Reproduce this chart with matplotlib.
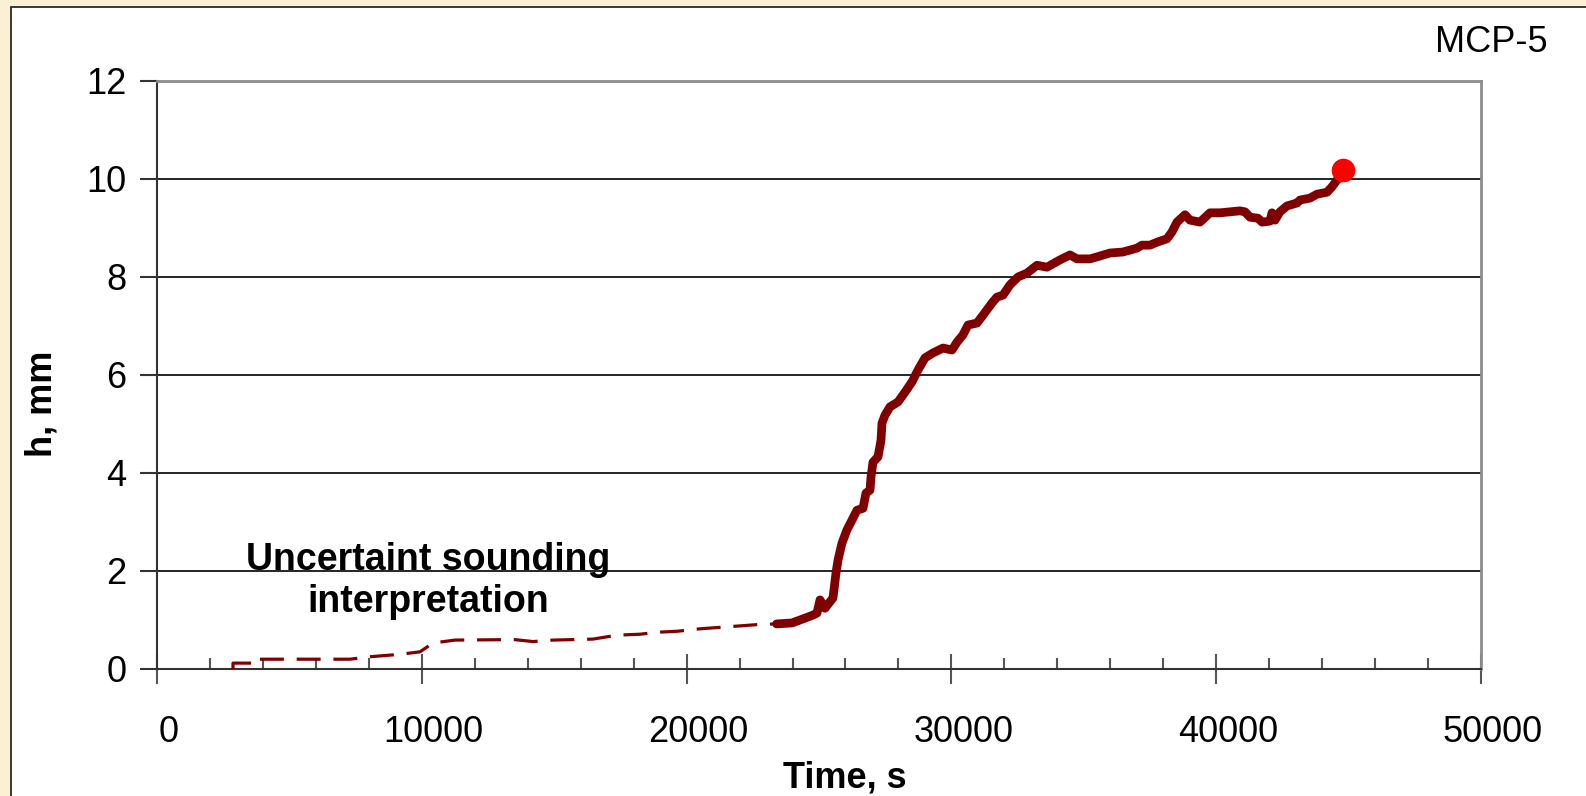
import matplotlib
matplotlib.use("Agg")
import matplotlib.pyplot as plt
from matplotlib.patches import Rectangle
from matplotlib.ticker import MultipleLocator
import matplotlib.transforms as mtransforms

plt.rcParams['font.family'] = ['Liberation Sans', 'DejaVu Sans']

# Early part of the record (uncertain sounding interpretation), seconds / mm
t_uncertain = [2870, 2870, 3620, 3620, 7290, 8040, 9180, 9930, 10420, 11250,
               13500, 14200, 14950, 16460, 17370, 18240, 18880, 19640, 20500,
               21520, 22770, 23400]
h_uncertain = [0.0, 0.12, 0.12, 0.20, 0.20, 0.25, 0.30, 0.35, 0.53, 0.59,
               0.60, 0.56, 0.59, 0.61, 0.69, 0.71, 0.75, 0.77, 0.82,
               0.86, 0.91, 0.92]

# Reliable part of the record
t_measured = [23400, 23980, 24282, 24773, 24924, 25038, 25226, 25528, 25642, 25717,
              25868, 26057, 26246, 26435, 26661, 26775, 26926, 26964, 27039, 27228,
              27341, 27379, 27492, 27681, 27983, 28248, 28512, 28738, 29003, 29305,
              29682, 30022, 30211, 30438, 30627, 30966, 31193, 31533, 31722, 31948,
              32213, 32515, 32855, 33232, 33610, 34101, 34479, 34743, 35234, 35498,
              35989, 36480, 37009, 37198, 37500, 37764, 38142, 38330, 38519, 38821,
              39010, 39388, 39765, 40143, 40898, 41087, 41276, 41578, 41729, 42031,
              42107, 42220, 42409, 42673, 43051, 43164, 43542, 43806, 44184, 44373,
              44562, 44788]
h_measured = [0.92, 0.94, 1.00, 1.10, 1.14, 1.41, 1.24, 1.45, 1.96, 2.22,
              2.57, 2.84, 3.04, 3.24, 3.28, 3.59, 3.65, 3.92, 4.22, 4.33,
              4.67, 5.02, 5.18, 5.35, 5.45, 5.65, 5.86, 6.10, 6.35, 6.45,
              6.55, 6.51, 6.67, 6.82, 7.02, 7.06, 7.22, 7.47, 7.59, 7.63,
              7.84, 8.00, 8.08, 8.24, 8.20, 8.35, 8.45, 8.37, 8.37, 8.41,
              8.49, 8.51, 8.59, 8.65, 8.65, 8.71, 8.78, 8.92, 9.12, 9.27,
              9.16, 9.12, 9.31, 9.31, 9.35, 9.33, 9.22, 9.20, 9.12, 9.14,
              9.31, 9.16, 9.33, 9.45, 9.51, 9.57, 9.61, 9.69, 9.73, 9.84,
              9.98, 10.06]

# Final reading
t_final = [44800]
h_final = [10.18]

x_ticks = [0, 10000, 20000, 30000, 40000, 50000]
y_ticks = [0, 2, 4, 6, 8, 10, 12]

W, H = 1586, 796
fig = plt.figure(figsize=(W / 100, H / 100), dpi=100)
fig.patch.set_facecolor('#FBEFD6')
fig.add_artist(Rectangle((11 / W, -0.2), 2.0, 1.2 - 7 / H,
                         transform=fig.transFigure, facecolor='white',
                         edgecolor='#2a2a2a', lw=1.3, zorder=0))

ax = fig.add_axes([157 / W, 127 / H, 1324 / W, 588 / H])
ax.set_facecolor('white')

ax.plot(t_uncertain, h_uncertain, color='#800000', lw=2.3,
        dashes=(7.5, 4.0), solid_capstyle='butt', zorder=3)
ax.plot(t_measured, h_measured, color='#800000', lw=6.3,
        solid_joinstyle='round', solid_capstyle='round', zorder=4)
ax.plot(t_final, h_final, 'o', color='#FF0000', ms=17, mec='none', zorder=5)

ax.set_xlim(0, 50000)
ax.set_ylim(0, 12)
ax.set_xticks(x_ticks)
ax.set_yticks(y_ticks)
ax.xaxis.set_minor_locator(MultipleLocator(2000))
ax.set_xticklabels([str(v) for v in x_ticks])
ax.set_yticklabels([str(v) for v in y_ticks])

ax.yaxis.grid(True, color='black', lw=1.2)
ax.set_axisbelow(True)

for side in ('top', 'right'):
    ax.spines[side].set_color('#8c8c8c')
    ax.spines[side].set_linewidth(2.0)
for side in ('left', 'bottom'):
    ax.spines[side].set_color('#333333')
    ax.spines[side].set_linewidth(1.5)

ax.tick_params(axis='x', which='major', direction='inout', length=22,
               width=1.5, color='#555555', labelsize=26, pad=22)
ax.tick_params(axis='x', which='minor', direction='in', length=8,
               width=1.5, color='#555555')
ax.tick_params(axis='y', which='major', direction='out', length=12,
               width=1.5, color='#333333', labelsize=26, pad=10)

# shift x tick labels slightly right
offset = mtransforms.ScaledTranslation(12 / 100, 0, fig.dpi_scale_trans)
for lbl in ax.get_xticklabels():
    lbl.set_transform(lbl.get_transform() + offset)

fig.text(845 / W, 1 - 778 / H, 'Time, s', ha='center', va='center',
         fontsize=26, fontweight='bold')
fig.text(42 / W, 1 - 404 / H, 'h, mm', ha='center', va='center',
         rotation=90, fontsize=26, fontweight='bold')
fig.text(1548 / W, 1 - 43 / H, 'MCP-5', ha='right', va='center', fontsize=26)
ax.text(10250, 1.8, 'Uncertaint sounding\ninterpretation', ha='center',
        va='center', fontsize=27, fontweight='bold', linespacing=1.2)

fig.savefig('out.png', dpi=100, facecolor=fig.get_facecolor())
